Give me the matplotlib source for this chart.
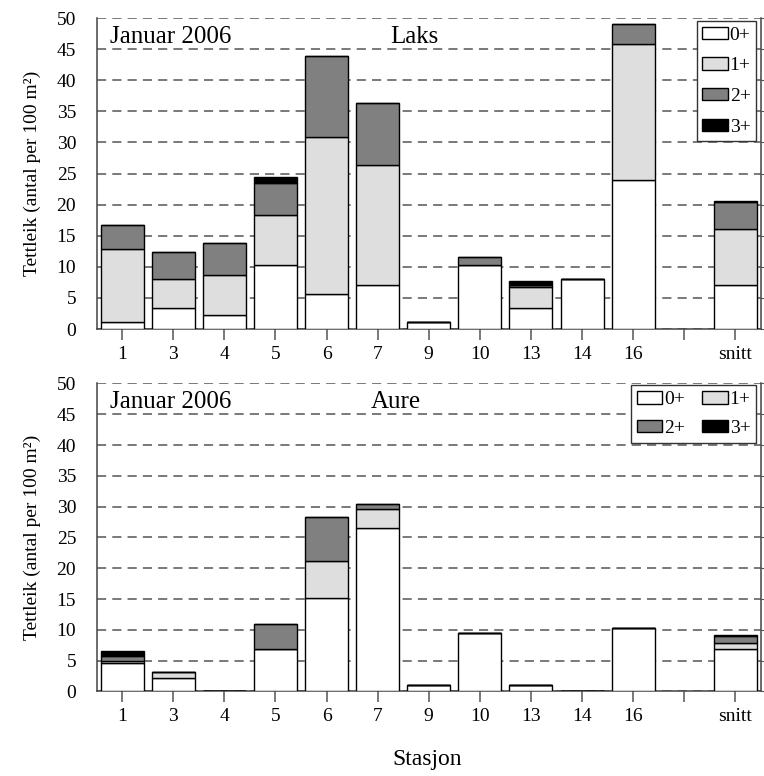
import matplotlib
matplotlib.use("Agg")
import matplotlib.pyplot as plt
from matplotlib.transforms import blended_transform_factory

plt.rcParams['font.family'] = ['Liberation Serif', 'DejaVu Serif']

# stasjonar langs x-aksen, tom plass før snitt
stasjon = ['1', '3', '4', '5', '6', '7', '9', '10', '13', '14', '16', '', 'snitt']
aldersgrupper = ['0+', '1+', '2+', '3+']
fargar = ['white', '#dedede', '#808080', 'black']

# tettleik laks (antal per 100 m2), ein verdi per stasjon med data
laks_0 = [1.1, 3.4, 2.3, 10.3, 5.7, 7.0, 1.1, 10.3, 3.4, 8.1, 24.0, 7.0]
laks_1 = [11.8, 4.6, 6.4, 8.0, 25.2, 19.4, 0.0, 0.0, 3.4, 0.0, 21.9, 9.1]
laks_2 = [3.9, 4.4, 5.1, 5.1, 13.0, 10.0, 0.0, 1.2, 0.2, 0.0, 3.1, 4.3]
laks_3 = [0.0, 0.0, 0.0, 1.0, 0.0, 0.0, 0.0, 0.0, 0.8, 0.0, 0.0, 0.2]

# tettleik aure
aure_0 = [4.6, 2.2, 0.0, 6.85, 15.1, 26.6, 1.1, 9.55, 1.0, 0.0, 10.35, 6.95]
aure_1 = [0.3, 1.0, 0.0, 0.0, 6.1, 3.0, 0.0, 0.0, 0.0, 0.0, 0.0, 0.85]
aure_2 = [0.9, 0.0, 0.0, 4.05, 7.2, 0.9, 0.0, 0.0, 0.0, 0.0, 0.0, 1.25]
aure_3 = [0.8, 0.0, 0.0, 0.0, 0.0, 0.0, 0.0, 0.0, 0.0, 0.0, 0.0, 0.1]

pos = [i for i, s in enumerate(stasjon) if s]

fig = plt.figure(figsize=(7.64, 7.76), dpi=100)
ax1 = fig.add_axes([0.127, 0.576, 0.869, 0.4008])
ax2 = fig.add_axes([0.127, 0.1089, 0.869, 0.397])


def teikn(ax, serier, art, ncol):
    botn = [0.0] * len(pos)
    stolpar = []
    for verdi, farge, lab in zip(serier, fargar, aldersgrupper):
        b = ax.bar(pos, verdi, width=0.84, bottom=botn, color=farge,
                   edgecolor='black', linewidth=1.0, label=lab, zorder=3)
        stolpar.append(b)
        botn = [b + v for b, v in zip(botn, verdi)]

    ax.set_xlim(-0.49, 12.5)
    ax.set_ylim(0, 50)
    ax.set_yticks(range(0, 51, 5))
    ax.set_xticks(range(len(stasjon)))
    ax.set_xticklabels(stasjon)
    ax.set_axisbelow(True)
    ax.yaxis.grid(True, linestyle=(0, (6, 4)), color='#555555', linewidth=1.1)
    ax.spines['top'].set_visible(False)
    for s in ['left', 'right', 'bottom']:
        ax.spines[s].set_color('#444444')
        ax.spines[s].set_linewidth(1.1)
    ax.tick_params(axis='x', direction='out', length=8, width=1.1,
                   color='#555555', labelsize=14, pad=4)
    ax.tick_params(axis='y', left=False, right=True, direction='out', length=3,
                   color='#555555', labelsize=14, pad=12)
    ax.set_ylabel('Tettleik (antal per 100 m²)', fontsize=14)
    ax.yaxis.set_label_coords(-0.084, 0.5)

    tr = blended_transform_factory(ax.transAxes, ax.transData)
    ax.text(0.02, 46, 'Januar 2006', transform=tr, fontsize=18, va='baseline')
    xart = 0.441 if art == 'Laks' else 0.4127
    ax.text(xart, 46, art, transform=tr, fontsize=18, va='baseline')

    if ncol == 2:
        # radvis rekkjefølgje: 0+ 1+ / 2+ 3+
        rekkje = [0, 2, 1, 3]
        leg = ax.legend([stolpar[i] for i in rekkje],
                        [aldersgrupper[i] for i in rekkje],
                        loc='upper right', bbox_to_anchor=(0.996, 1.0), ncol=2,
                        fontsize=14, fancybox=False, edgecolor='#333333',
                        framealpha=1, borderpad=0.3, labelspacing=0.6,
                        handlelength=1.3, handleheight=0.6, handletextpad=0.1,
                        columnspacing=0.9, borderaxespad=0.1)
    else:
        leg = ax.legend(loc='upper right', bbox_to_anchor=(0.996, 0.997),
                        fontsize=14, fancybox=False, edgecolor='#333333',
                        framealpha=1, borderpad=0.3, labelspacing=0.7,
                        handlelength=1.3, handleheight=0.6, handletextpad=0.1,
                        borderaxespad=0.1)
    leg.get_frame().set_linewidth(1.0)


teikn(ax1, [laks_0, laks_1, laks_2, laks_3], 'Laks', 1)
teikn(ax2, [aure_0, aure_1, aure_2, aure_3], 'Aure', 2)

fig.text(427 / 764, 1 - 760 / 776, 'Stasjon', ha='center', va='center', fontsize=17)

fig.savefig('out.png', dpi=100)
